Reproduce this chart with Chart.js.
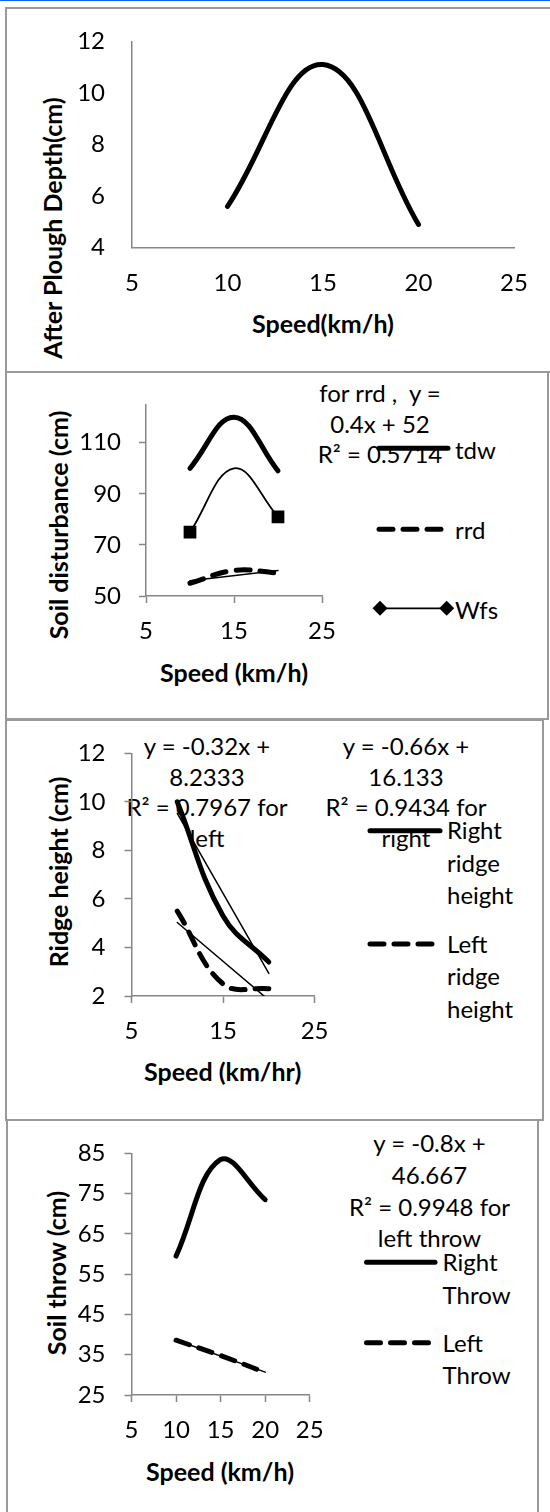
<!DOCTYPE html>
<html>
<head>
<meta charset="utf-8">
<script src="https://cdn.jsdelivr.net/npm/chart.js@4.4.1/dist/chart.umd.min.js"></script>
<style>
  body { margin: 0; background: #fff; }
  #page { position: relative; width: 550px; height: 1512px; overflow: hidden; background: #fff;
          font-family: Lato, "DejaVu Sans", sans-serif; color: #000; }
  .topline { position: absolute; left: 0; top: 0; width: 550px; height: 1px; background: #0b63f6; }
  .panel { position: absolute; box-sizing: border-box; border: 2px solid #9a9a9a; }
  .txt { position: absolute; white-space: pre; font-size: 24px; z-index: 1; }
  .bold { font-weight: bold; font-size: 25px; }
  canvas { position: absolute; left: 0; z-index: 2; }
</style>
</head>
<body>
<div id="page">
  <div class="topline"></div>
  <div class="panel" style="left:5px;top:7px;width:600px;height:366px"></div>
  <div class="panel" style="left:5px;top:371px;width:544px;height:349px"></div>
  <div class="panel" style="left:5px;top:719px;width:539px;height:402px"></div>
  <div class="panel" style="left:6px;top:1119px;width:533px;height:420px"></div>
</div>
<script>
// Shared x values (speed, km/h)
const speeds = [10, 15, 20];
const trendX = [10, 20];

// Panel 1: after plough depth
const ploughDepth = [5.6, 11.1, 4.9];
const p1XTicks = [5, 10, 15, 20, 25];
const p1YTicks = [4, 6, 8, 10, 12];

// Panel 2: soil disturbance
const tdw = [100, 120, 99];
const rrd = [55, 60, 59];
const wfs = [75, 100, 81];
const rrdTrend = [56, 60];
const p2XTicks = [5, 15, 25];
const p2YTicks = [50, 70, 90, 110];

// Panel 3: ridge height
const rightRidge = [10, 5.3, 3.4];
const leftRidge = [5.5, 2.5, 2.3];
const rightRidgeTrend = [9.53, 2.93];
const leftRidgeTrend = [5.03, 1.83];
const p3XTicks = [5, 15, 25];
const p3YTicks = [2, 4, 6, 8, 10, 12];

// Panel 4: soil throw
const rightThrow = [59.5, 83.5, 73.5];
const leftThrow = [38.6, 34.8, 30.6];
const leftThrowTrend = [38.67, 30.67];
const p4XTicks = [5, 10, 15, 20, 25];
const p4YTicks = [25, 35, 45, 55, 65, 75, 85];

const FONT = 'Lato, "DejaVu Sans", sans-serif';
const AXIS = '#868686';
const page = document.getElementById('page');

function pts(xs, ys) {
    return xs.map((x, i) => ({ x: x, y: ys[i] }));
}

// Draw line samples for the hand placed legends
const legendSamples = {
    id: 'legendSamples',
    afterDatasetsDraw(chart, args, opts) {
        const ctx = chart.ctx;
        (opts.items || []).forEach(it => {
            const y = it.y - opts.top;
            ctx.save();
            ctx.strokeStyle = '#000';
            ctx.lineWidth = it.width;
            ctx.lineCap = 'round';
            ctx.setLineDash(it.dash || []);
            ctx.beginPath();
            ctx.moveTo(it.x1, y);
            ctx.lineTo(it.x2, y);
            ctx.stroke();
            if (it.diamond) {
                ctx.fillStyle = '#000';
                [it.x1, it.x2].forEach(x => {
                    ctx.beginPath();
                    ctx.moveTo(x - 7.5, y);
                    ctx.lineTo(x, y - 7.5);
                    ctx.lineTo(x + 7.5, y);
                    ctx.lineTo(x, y + 7.5);
                    ctx.closePath();
                    ctx.fill();
                });
            }
            ctx.restore();
        });
    }
};

function axis(vals, range, showTicks, pad, fit) {
    return {
        type: 'linear',
        min: range[0],
        max: range[1],
        afterBuildTicks: s => { s.ticks = vals.map(v => ({ value: v })); },
        afterFit: fit,
        ticks: { color: '#000', font: { family: FONT, size: 24 }, padding: pad, autoSkip: false, maxRotation: 0 },
        grid: { drawOnChartArea: false, tickLength: 7, tickWidth: 1.5, tickColor: showTicks ? AXIS : 'rgba(0,0,0,0)' },
        border: { color: AXIS, width: 1.5 }
    };
}

function makePanel(cfg) {
    const canvas = document.createElement('canvas');
    canvas.width = 550;
    canvas.height = cfg.height;
    canvas.style.top = cfg.top + 'px';
    page.appendChild(canvas);
    const a = cfg.area;
    return new Chart(canvas, {
        type: 'line',
        data: { datasets: cfg.datasets },
        options: {
            responsive: false,
            animation: false,
            events: [],
            layout: { padding: { left: 0, right: 550 - a.r, top: a.t - cfg.top, bottom: 0 } },
            plugins: {
                legend: { display: false },
                tooltip: { enabled: false },
                legendSamples: { top: cfg.top, items: cfg.samples || [] }
            },
            scales: {
                x: axis(cfg.xTicks, cfg.xRange, cfg.showTicks, 14, s => { s.height = cfg.top + cfg.height - a.b; }),
                y: axis(cfg.yTicks, cfg.yRange, cfg.showTicks, cfg.yPad, s => { s.width = a.l; })
            }
        },
        plugins: [legendSamples]
    });
}

// Text helper: x,y is the centre of the first line (left edge when align is left)
function text(str, x, y, o = {}) {
    const d = document.createElement('div');
    const lh = o.lh || 30;
    d.className = 'txt' + (o.bold ? ' bold' : '');
    d.textContent = str;
    d.style.lineHeight = lh + 'px';
    if (o.rotate) {
        d.style.left = x + 'px';
        d.style.top = y + 'px';
        d.style.transform = 'translate(-50%, -50%) rotate(-90deg)';
    } else if (o.align === 'left') {
        d.style.left = x + 'px';
        d.style.top = (y - lh / 2) + 'px';
    } else {
        d.style.left = x + 'px';
        d.style.top = (y - lh / 2) + 'px';
        d.style.textAlign = 'center';
        d.style.transform = 'translateX(-50%)';
    }
    page.appendChild(d);
}

const solid = { borderColor: '#000', pointRadius: 0, borderCapStyle: 'round', borderJoinStyle: 'round', tension: 0.4 };

// Panel 1
makePanel({
    top: 7, height: 365,
    area: { l: 132, t: 37.3, r: 514, b: 247.7 },
    xTicks: p1XTicks, xRange: [5, 25], yTicks: p1YTicks, yRange: [4, 12],
    showTicks: false, yPad: 20,
    datasets: [
        { ...solid, data: pts(speeds, ploughDepth), borderWidth: 5 }
    ]
});
text('After Plough Depth(cm)', 52, 228, { bold: true, rotate: true });
text('Speed(km/h)', 323, 323, { bold: true });

// Panel 2
makePanel({
    top: 372, height: 347,
    area: { l: 146, t: 401.7, r: 322, b: 596 },
    xTicks: p2XTicks, xRange: [5, 25], yTicks: p2YTicks, yRange: [50, 125],
    showTicks: true, yPad: 18,
    datasets: [
        { ...solid, data: pts(speeds, tdw), borderWidth: 5 },
        { ...solid, data: pts(speeds, rrd), borderWidth: 5, borderDash: [14, 10] },
        { ...solid, data: pts(speeds, wfs), borderWidth: 1.75, pointStyle: 'rect',
          pointRadius: [9, 0, 9], pointBackgroundColor: '#000', pointBorderWidth: 0 },
        { ...solid, data: pts(trendX, rrdTrend), borderWidth: 1.5, tension: 0 }
    ],
    samples: [
        { x1: 379, x2: 448, y: 448.3, width: 5 },
        { x1: 379, x2: 448, y: 529.3, width: 5, dash: [14, 10] },
        { x1: 380, x2: 446.7, y: 608.3, width: 1.75, diamond: true }
    ]
});
text('for rrd ,  y =\n0.4x + 52\nR² = 0.5714', 380, 393.3, { lh: 30.5 });
text('tdw', 455, 450, { align: 'left' });
text('rrd', 455, 530, { align: 'left' });
text('Wfs', 455, 610, { align: 'left' });
text('Speed (km/h)', 234, 671.7, { bold: true });
text('Soil disturbance (cm)', 58, 525, { bold: true, rotate: true });

// Panel 3
makePanel({
    top: 720, height: 400,
    area: { l: 131.5, t: 748, r: 314.6, b: 996 },
    xTicks: p3XTicks, xRange: [5, 25], yTicks: p3YTicks, yRange: [2, 12],
    showTicks: true, yPad: 19,
    datasets: [
        { ...solid, data: pts(speeds, rightRidge), borderWidth: 5 },
        { ...solid, data: pts(speeds, leftRidge), borderWidth: 5, borderDash: [14, 10] },
        { ...solid, data: pts(trendX, rightRidgeTrend), borderWidth: 1.5, tension: 0 },
        { ...solid, data: pts(trendX, leftRidgeTrend), borderWidth: 1.5, tension: 0 }
    ],
    samples: [
        { x1: 370, x2: 440, y: 830.7, width: 5 },
        { x1: 370, x2: 440, y: 944, width: 5, dash: [14, 10] }
    ]
});
text('y = -0.32x +\n8.2333\nR² = 0.7967 for\nleft', 207, 746.7, { lh: 30.5 });
text('y = -0.66x +\n16.133\nR² = 0.9434 for\nright', 406, 746.7, { lh: 30.5 });
text('Right\nridge\nheight', 447, 830.5, { align: 'left', lh: 32.5 });
text('Left\nridge\nheight', 447, 944, { align: 'left', lh: 32.5 });
text('Speed (km/hr)', 222.7, 1070.7, { bold: true });
text('Ridge height (cm)', 58, 872, { bold: true, rotate: true });

// Panel 4
makePanel({
    top: 1120, height: 392,
    area: { l: 131.5, t: 1149.3, r: 309.7, b: 1395 },
    xTicks: p4XTicks, xRange: [5, 25], yTicks: p4YTicks, yRange: [25, 85],
    showTicks: true, yPad: 19,
    datasets: [
        { ...solid, data: pts(speeds, rightThrow), borderWidth: 5 },
        { ...solid, data: pts(speeds, leftThrow), borderWidth: 5, borderDash: [14, 10] },
        { ...solid, data: pts(trendX, leftThrowTrend), borderWidth: 1.5, tension: 0 }
    ],
    samples: [
        { x1: 366.5, x2: 435, y: 1262.3, width: 5 },
        { x1: 366.5, x2: 435, y: 1342.7, width: 5, dash: [14, 10] }
    ]
});
text('y = -0.8x +\n46.667\nR² = 0.9948 for\nleft throw', 429.5, 1142.7, { lh: 31.9 });
text('Right\nThrow', 442.6, 1262.3, { align: 'left', lh: 32.7 });
text('Left\nThrow', 442.6, 1343, { align: 'left', lh: 32.7 });
text('Speed (km/h)', 220, 1470.7, { bold: true });
text('Soil throw (cm)', 56, 1272.5, { bold: true, rotate: true });
</script>
</body>
</html>
